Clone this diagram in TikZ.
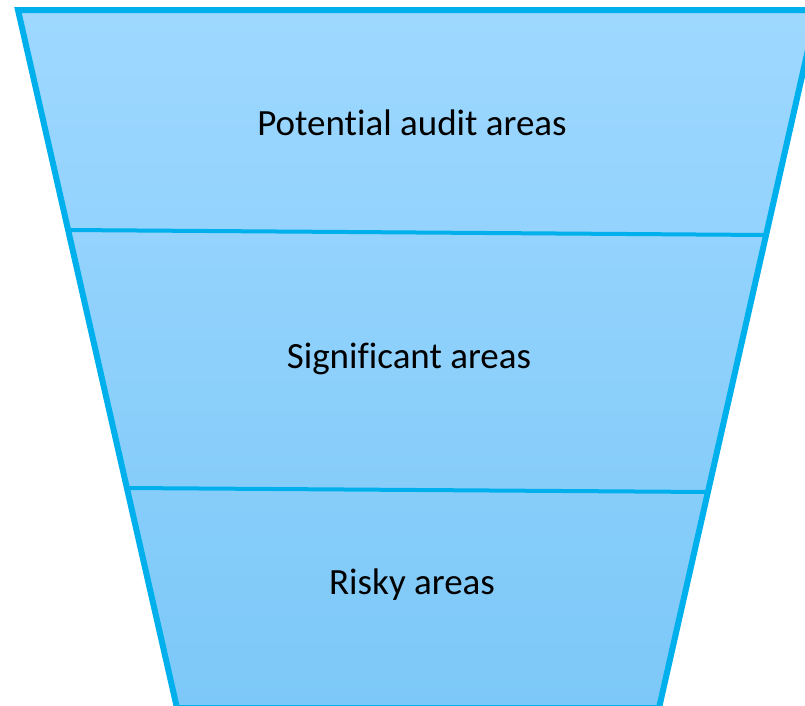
\documentclass[tikz,border=0pt]{standalone}
\usepackage{fontspec}
\setmainfont[Ligatures={NoCommon}]{Carlito}
\definecolor{funnelEdge}{RGB}{0,176,236}
\definecolor{funnelTop}{RGB}{158,216,255}
\definecolor{funnelBottom}{RGB}{124,200,248}
\tikzset{
  stagelabel/.style={anchor=base, font=\fontsize{37}{44}\selectfont, text=black, inner sep=0pt},
  divider/.style={draw=funnelEdge, line width=4pt},
  outline/.style={draw=funnelEdge, line width=6pt, line join=miter}
}
\begin{document}
\begin{tikzpicture}[x=1pt, y=-1pt]
  \useasboundingbox (0,0) rectangle (805,705);
  % funnel outline corners
  \coordinate (tl) at (18,10);
  \coordinate (tr) at (817,10);
  \coordinate (br) at (659,708);
  \coordinate (bl) at (177,708);
  % divider end points on the slanted sides
  \coordinate (d1l) at (68,230);
  \coordinate (d1r) at (767,235);
  \coordinate (d2l) at (128,488);
  \coordinate (d2r) at (709,492);
  % funnel body
  \shade[top color=funnelTop, bottom color=funnelBottom] (tl) -- (tr) -- (br) -- (bl) -- cycle;
  \draw[divider] (d1l) -- (d1r);
  \draw[divider] (d2l) -- (d2r);
  \draw[outline] (tl) -- (tr) -- (br) -- (bl) -- cycle;
  % stage labels
  \node[stagelabel] (potential) at (412,135) {Potential audit areas};
  \node[stagelabel] (significant) at (409,368) {Significant areas};
  \node[stagelabel] (risky) at (412,594) {Risky areas};
\end{tikzpicture}
\end{document}
